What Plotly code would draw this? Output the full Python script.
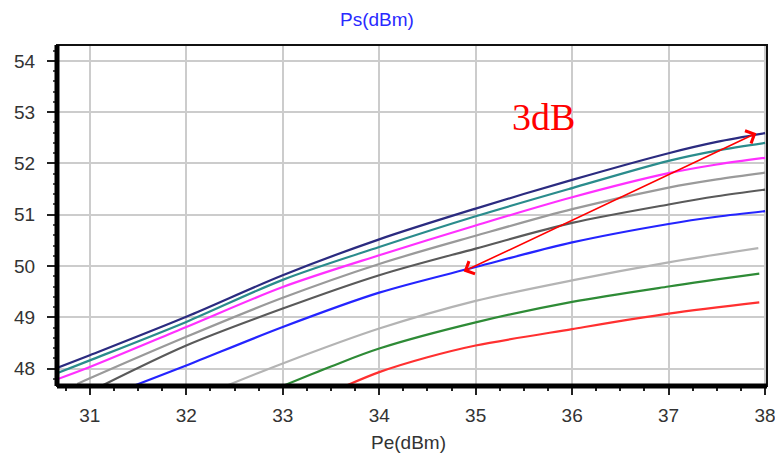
import plotly.graph_objects as go

# ---- data ----
pe_navy = [30.66, 31, 32, 33, 34, 35, 36, 37, 37.5, 38]
ps_navy = [48.01, 48.26, 49.01, 49.82, 50.52, 51.12, 51.68, 52.20, 52.42, 52.59]

pe_teal = [30.66, 31, 32, 33, 34, 35, 36, 37, 37.5, 38]
ps_teal = [47.91, 48.16, 48.91, 49.73, 50.37, 50.97, 51.52, 52.05, 52.25, 52.40]

pe_magenta = [30.66, 31, 32, 33, 34, 35, 36, 37, 37.5, 38]
ps_magenta = [47.79, 48.03, 48.81, 49.59, 50.21, 50.79, 51.34, 51.81, 51.98, 52.11]

pe_gray = [30.87, 31, 32, 33, 34, 35, 36, 37, 37.5, 38]
ps_gray = [47.70, 47.81, 48.62, 49.38, 50.04, 50.59, 51.11, 51.53, 51.69, 51.82]

pe_darkgray = [31.14, 32, 33, 34, 35, 36, 37, 37.5, 38]
ps_darkgray = [47.68, 48.45, 49.17, 49.82, 50.34, 50.84, 51.20, 51.36, 51.49]

pe_blue = [31.45, 32, 33, 34, 35, 36, 37, 37.5, 38]
ps_blue = [47.66, 48.06, 48.81, 49.48, 49.98, 50.46, 50.82, 50.96, 51.07]

pe_lightgray = [32.41, 33, 34, 35, 36, 37, 37.93]
ps_lightgray = [47.66, 48.10, 48.78, 49.32, 49.72, 50.07, 50.35]

pe_green = [33.0, 33.5, 34, 35, 36, 37, 37.94]
ps_green = [47.66, 48.04, 48.39, 48.90, 49.30, 49.60, 49.85]

pe_red = [33.65, 34, 34.5, 35, 36, 37, 37.94]
ps_red = [47.66, 47.93, 48.22, 48.45, 48.77, 49.07, 49.29]

x_ticks = [31, 32, 33, 34, 35, 36, 37, 38]
y_ticks = [48, 49, 50, 51, 52, 53, 54]

title_text = "Ps(dBm)"
xlabel_text = "Pe(dBm)"
note_text = "3dB"
arrow_from = (34.86, 49.88)
arrow_to = (37.91, 52.59)
note_pos = (35.70, 52.90)

series = [
    (pe_navy, ps_navy, "#2b2b80"),
    (pe_teal, ps_teal, "#2a8c8c"),
    (pe_magenta, ps_magenta, "#ff30ff"),
    (pe_gray, ps_gray, "#9a9a9a"),
    (pe_darkgray, ps_darkgray, "#5a5a5a"),
    (pe_blue, ps_blue, "#2424ff"),
    (pe_lightgray, ps_lightgray, "#b4b4b4"),
    (pe_green, ps_green, "#2e8b36"),
    (pe_red, ps_red, "#ff3030"),
]

fig = go.Figure()
for xs, ys, col in series:
    fig.add_trace(go.Scatter(x=xs, y=ys, mode="lines",
                             line=dict(color=col, width=2.2, shape="spline", smoothing=0.9),
                             showlegend=False, hoverinfo="skip"))

font_fam = "Liberation Sans, Arial, sans-serif"

fig.update_layout(
    width=775, height=458,
    margin=dict(l=57, r=8, t=45, b=72, autoexpand=False),
    paper_bgcolor="white", plot_bgcolor="white",
    title=dict(text=title_text, x=377 / 775, xref="container", xanchor="center",
               y=1 - 19 / 458, yref="container", yanchor="middle",
               font=dict(family=font_fam, size=19, color="#2a2aff")),
    font=dict(family=font_fam, size=19, color="#333333"),
)

fig.update_xaxes(
    range=[30.66, 38.02], tickvals=x_ticks, ticktext=[str(v) for v in x_ticks],
    showgrid=True, gridcolor="#cccccc", gridwidth=2,
    ticks="outside", ticklen=8, tickwidth=1.5, tickcolor="#222222",
    minor=dict(dtick=0.25, tick0=31, ticks="outside", ticklen=4, tickcolor="#222222", showgrid=False),
    showline=False, zeroline=False, automargin=False, ticklabelstandoff=4,
    ticklabeloverflow="allow",
    tickfont=dict(family=font_fam, size=19, color="#333333"),
)
fig.update_yaxes(
    range=[47.66, 54.31], tickvals=y_ticks, ticktext=[str(v) for v in y_ticks],
    showgrid=True, gridcolor="#cccccc", gridwidth=2,
    ticks="outside", ticklen=9, tickwidth=1.5, tickcolor="#222222",
    minor=dict(dtick=0.2, tick0=48, ticks="outside", ticklen=3, tickcolor="#555555", showgrid=False),
    showline=False, zeroline=False, automargin=False, ticklabelstandoff=8,
    tickfont=dict(family=font_fam, size=19, color="#333333"),
)

# x-axis title as text below the axis
fig.add_annotation(text=xlabel_text, xref="paper", yref="paper", x=(408 - 57) / 710,
                   y=(386 - 442) / 341, xanchor="center", yanchor="middle", showarrow=False,
                   font=dict(family=font_fam, size=19, color="#333333"))

# frame: thin top/right, thick left/bottom
fig.add_shape(type="rect", xref="paper", yref="paper", x0=0, x1=1, y0=0, y1=1,
              line=dict(color="#111111", width=2), layer="above")
fig.add_shape(type="line", xref="paper", yref="paper", x0=0, x1=0, y0=0, y1=1,
              line=dict(color="black", width=5), layer="above")
fig.add_shape(type="line", xref="paper", yref="paper", x0=0, x1=1, y0=0, y1=0,
              line=dict(color="black", width=5), layer="above")

# 3dB double arrow and label
fig.add_annotation(x=arrow_to[0], y=arrow_to[1], ax=arrow_from[0], ay=arrow_from[1],
                   xref="x", yref="y", axref="x", ayref="y", text="",
                   showarrow=True, arrowhead=4, startarrowhead=4, arrowside="end+start",
                   arrowsize=1.7, startarrowsize=1.7, arrowwidth=1.6, arrowcolor="#ff0000")
fig.add_annotation(x=note_pos[0], y=note_pos[1], xref="x", yref="y", text=note_text, showarrow=False,
                   font=dict(family="Liberation Serif, Times New Roman, serif", size=38, color="#ff0000"))

fig.write_html("out.html", config={"displayModeBar": False},
               post_script="document.body.style.margin='0';")
